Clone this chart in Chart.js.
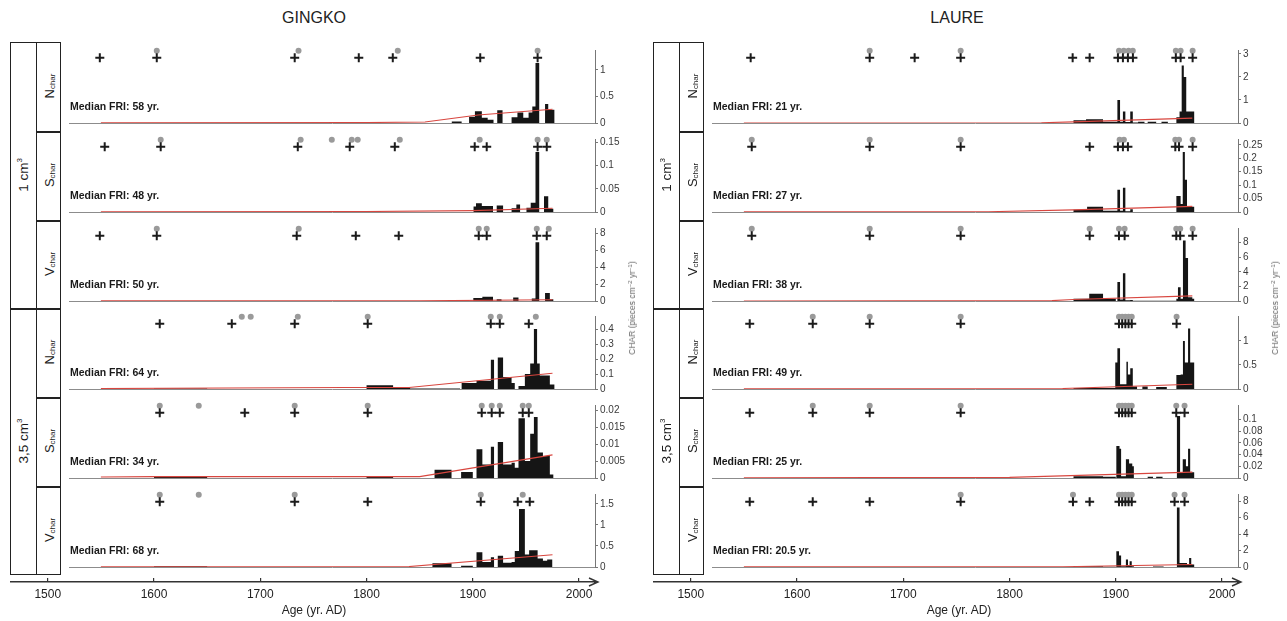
<!DOCTYPE html>
<html><head><meta charset="utf-8">
<script src="https://cdn.jsdelivr.net/npm/chart.js@4.4.0/dist/chart.umd.min.js"></script>
<style>
body{margin:0;width:1287px;height:621px;background:#fff;position:relative;overflow:hidden;font-family:"Liberation Sans",Arial,sans-serif;color:#1a1a1a;}
.t{position:absolute;white-space:nowrap;}
.rot{position:absolute;white-space:nowrap;transform:translate(-50%,-50%) rotate(-90deg);}
.ln{position:absolute;background:#222;}
sub{font-size:8px;vertical-align:baseline;position:relative;top:1px;}
sup{font-size:8px;vertical-align:baseline;position:relative;top:-6px;}
.fri{position:absolute;font-weight:bold;font-size:10.5px;white-space:nowrap;color:#1a1a1a;}
</style></head><body>
<script>
// ---------------- DATA ----------------
const panelNames = ['GINGKO', 'LAURE'];
const rowLetters = ['N', 'S', 'V', 'N', 'S', 'V'];
const gFRI = ['58', '48', '50', '64', '34', '68'];
const lFRI = ['21', '27', '38', '49', '25', '20.5'];
const axisTicks = [1500, 1600, 1700, 1800, 1900, 2000];

// GINGKO 1 cm3 Nchar
const gN1Years = [1880, 1889.5, 1896.5, 1902, 1908.5, 1914, 1919.5, 1923, 1928, 1936.5, 1942, 1947.5, 1952.5, 1956, 1959, 1962.5, 1968, 1971, 1977];
const gN1Vals  = [0.03, 0, 0.12, 0.22, 0.1, 0.06, 0, 0.24, 0, 0.11, 0.2, 0.1, 0.2, 0.31, 1.13, 0, 0.36, 0.25, 0];
const gN1LineYears = [1550, 1800, 1855, 1905, 1975];
const gN1LineVals  = [0.004, 0.008, 0.02, 0.15, 0.26];
const gN1Peaks   = [1549, 1602.6, 1732.4, 1792.7, 1824.7, 1907, 1961];
const gN1Circles = [1602.6, 1736, 1829.4, 1961];
// GINGKO 1 cm3 Schar
const gS1Years = [1900.5, 1903, 1908.5, 1919, 1922.5, 1928.5, 1936.5, 1941, 1944.5, 1950.5, 1954.5, 1959, 1962.5, 1967, 1971, 1976];
const gS1Vals  = [0.012, 0.019, 0.013, 0, 0.014, 0, 0.008, 0.016, 0, 0.009, 0.02, 0.129, 0, 0.034, 0.007, 0];
const gS1LineYears = [1550, 1800, 1900, 1975];
const gS1LineVals  = [0.0004, 0.001, 0.003, 0.008];
const gS1Peaks   = [1553.6, 1606.3, 1735.3, 1784.2, 1826.6, 1901.8, 1913.1, 1961, 1969.6];
const gS1Circles = [1606.3, 1738, 1767.3, 1786.1, 1791.7, 1831.3, 1906.5, 1961, 1969.6];
// GINGKO 1 cm3 Vchar
const gV1Years = [1880, 1888, 1900.5, 1909, 1919, 1922.5, 1927, 1938, 1943, 1955.5, 1959, 1962.5, 1968, 1972.5, 1976];
const gV1Vals  = [0.05, 0, 0.35, 0.5, 0, 0.2, 0, 0.4, 0, 0.3, 6.9, 0, 0.95, 0.2, 0];
const gV1LineYears = [1550, 1850, 1975];
const gV1LineVals  = [0.01, 0.02, 0.15];
const gV1Peaks   = [1549, 1602.6, 1734.3, 1789.9, 1830.3, 1905.6, 1913.1, 1960.2, 1969.6];
const gV1Circles = [1602.6, 1736.2, 1905.6, 1913.1, 1960.2, 1971.5];
// GINGKO 3,5 cm3 Nchar
const gN2Years = [1600, 1650, 1800, 1825, 1841, 1888, 1889.5, 1903.5, 1917, 1920, 1923.5, 1928.5, 1936.5, 1939.5, 1943, 1949, 1954, 1957.5, 1960.5, 1963, 1972.5, 1977];
const gN2Vals  = [0.003, 0, 0.025, 0.008, 0.004, 0, 0.04, 0.055, 0.195, 0, 0.21, 0.08, 0.04, 0, 0.02, 0.1, 0.17, 0.4, 0.17, 0.09, 0.03, 0];
const gN2LineYears = [1550, 1780, 1840, 1975];
const gN2LineVals  = [0.003, 0.01, 0.01, 0.105];
const gN2Peaks   = [1605.4, 1673.2, 1732.4, 1801.1, 1916.9, 1925.4, 1952.7];
const gN2Circles = [1682.6, 1691, 1735.3, 1801.1, 1916.9, 1925.4, 1959.3];
// GINGKO 3,5 cm3 Schar
const gS2Years = [1600, 1650, 1800, 1825, 1864, 1880, 1889, 1900, 1903.5, 1909, 1917, 1920, 1923.5, 1928.5, 1936.5, 1939.5, 1943, 1949, 1954, 1957.5, 1961, 1966, 1972.5, 1976];
const gS2Vals  = [0.0005, 0, 0.0005, 0, 0.0024, 0, 0.0018, 0, 0.0085, 0.004, 0.0092, 0, 0.0106, 0.004, 0.0045, 0.003, 0.0176, 0.005, 0.013, 0.018, 0.0075, 0.0065, 0.001, 0];
const gS2LineYears = [1550, 1600, 1650, 1850, 1975];
const gS2LineVals  = [0.0003, 0.0004, 0.0004, 0.0004, 0.0068];
const gS2Peaks   = [1605.4, 1685.4, 1732.4, 1801.1, 1908.4, 1917.8, 1925.4, 1947, 1952.7];
const gS2Circles = [1605.4, 1642.1, 1732.4, 1801.1, 1908.4, 1917.8, 1925.4, 1947, 1952.7];
// GINGKO 3,5 cm3 Vchar
const gV2Years = [1600, 1650, 1862, 1880, 1889, 1900, 1903.5, 1909, 1917, 1920, 1923.5, 1928.5, 1936.5, 1939.5, 1943.5, 1949, 1953, 1961, 1966, 1970, 1975];
const gV2Vals  = [0.02, 0, 0.09, 0, 0.03, 0, 0.35, 0.12, 0.23, 0, 0.27, 0.1, 0.12, 0.38, 1.38, 0.3, 0.4, 0.2, 0.15, 0.18, 0];
const gV2LineYears = [1550, 1840, 1975];
const gV2LineVals  = [0.005, 0.01, 0.29];
const gV2Peaks   = [1605.4, 1732.4, 1801.1, 1907.5, 1942.3, 1953.6];
const gV2Circles = [1605.4, 1642.1, 1732.4, 1907.5, 1947];

// LAURE 1 cm3 Nchar
const lN1Years = [1860, 1872, 1888, 1901.5, 1904, 1906.7, 1909, 1913.6, 1916, 1921, 1927, 1930, 1938, 1943, 1949, 1957, 1960, 1962, 1964, 1966.3, 1974];
const lN1Vals  = [0.12, 0.16, 0.05, 1.0, 0.05, 0.5, 0.04, 0.5, 0.02, 0.05, 0, 0.05, 0, 0.05, 0, 0.25, 0.5, 2.5, 2.0, 0.5, 0];
const lN1LineYears = [1550, 1830, 1860, 1972];
const lN1LineVals  = [0.002, 0.01, 0.05, 0.21];
const lN1Peaks   = [1556.4, 1668.4, 1710.7, 1754, 1859.4, 1875.4, 1902, 1906.7, 1911.4, 1916.1, 1956.5, 1961, 1972.3];
const lN1Circles = [1668.4, 1754, 1903, 1907.5, 1912, 1916, 1956.5, 1961, 1972.3];
// LAURE 1 cm3 Schar
const lS1Years = [1860, 1873, 1888, 1901.5, 1904, 1906.7, 1909, 1913.6, 1916, 1957, 1961, 1963, 1965, 1967, 1974];
const lS1Vals  = [0.008, 0.02, 0.005, 0.083, 0.005, 0.09, 0.003, 0.01, 0, 0.06, 0.03, 0.224, 0.12, 0.02, 0];
const lS1LineYears = [1550, 1780, 1860, 1972];
const lS1LineVals  = [0.0005, 0.001, 0.008, 0.021];
const lS1Peaks   = [1557.4, 1668.4, 1754, 1875.4, 1902, 1906.7, 1911.4, 1956, 1959.5, 1972.3];
const lS1Circles = [1557.4, 1668.4, 1754, 1903.6, 1907.6, 1956, 1959.5, 1972.3];
// LAURE 1 cm3 Vchar
const lV1Years = [1860, 1875, 1888, 1900, 1901.5, 1904, 1906.7, 1909, 1913.6, 1916, 1957, 1958.5, 1961, 1963.2, 1965.7, 1968, 1972, 1974];
const lV1Vals  = [0.3, 1.0, 0.3, 0, 2.6, 0.2, 3.8, 0.1, 0.15, 0.05, 0.3, 1.9, 0.3, 8.3, 5.9, 0.5, 0.3, 0];
const lV1LineYears = [1550, 1840, 1860, 1972];
const lV1LineVals  = [0.01, 0.05, 0.2, 0.7];
const lV1Peaks   = [1557.4, 1668.4, 1754, 1875.4, 1903, 1908.3, 1956.9, 1960.6, 1972.3];
const lV1Circles = [1557.4, 1668.4, 1754, 1875.4, 1903, 1908.3, 1956.9, 1960.6, 1972.3];
// LAURE 3,5 cm3 Nchar
const lN2Years = [1860, 1899.5, 1901.5, 1904, 1910, 1911.4, 1913.6, 1916, 1920, 1925, 1930, 1938, 1948, 1957, 1961, 1963.2, 1965, 1968, 1970, 1974];
const lN2Vals  = [0.02, 0.55, 0.85, 0.1, 0.57, 0.3, 0.43, 0.05, 0, 0.05, 0, 0.04, 0, 0.29, 0.3, 1.0, 0.55, 1.26, 0.55, 0];
const lN2LineYears = [1550, 1850, 1972];
const lN2LineVals  = [0.002, 0.01, 0.1];
const lN2Peaks   = [1555.5, 1614.8, 1668.4, 1754, 1903, 1906, 1909, 1912, 1915, 1957.2];
const lN2Circles = [1614.8, 1668.4, 1754, 1903, 1906, 1909, 1912, 1915, 1957.2];
// LAURE 3,5 cm3 Schar
const lS2Years = [1860, 1888, 1900, 1900.5, 1903.5, 1905, 1909.5, 1912.5, 1915.5, 1917, 1930, 1935, 1938, 1944, 1957.5, 1960.5, 1963, 1966, 1968, 1970, 1974];
const lS2Vals  = [0.003, 0.002, 0, 0.055, 0.05, 0.003, 0.032, 0.025, 0.02, 0, 0.002, 0, 0.002, 0, 0.106, 0.01, 0.032, 0.02, 0.05, 0.01, 0];
const lS2LineYears = [1550, 1800, 1972];
const lS2LineVals  = [0.0003, 0.001, 0.01];
const lS2Peaks   = [1555.5, 1614.8, 1668.4, 1754, 1903, 1906, 1909, 1912, 1915, 1956.9, 1964.7];
const lS2Circles = [1614.8, 1668.4, 1754, 1903, 1906, 1909, 1912, 1915, 1956.9, 1964.7];
// LAURE 3,5 cm3 Vchar
const lV2Years = [1860, 1888, 1900, 1900.5, 1903, 1905, 1909.5, 1911.5, 1913, 1915, 1917, 1935, 1945, 1957.5, 1960, 1967, 1969, 1971, 1974];
const lV2Vals  = [0.1, 0.03, 0, 1.9, 1.4, 0.1, 0.9, 0.2, 0.7, 0.1, 0, 0.05, 0, 7.2, 0.5, 0.3, 1.1, 0.3, 0];
const lV2LineYears = [1550, 1850, 1972];
const lV2LineVals  = [0.02, 0.03, 0.3];
const lV2Peaks   = [1555.5, 1614.8, 1668.4, 1754, 1859.7, 1875.4, 1903, 1906, 1909, 1912, 1915, 1955.3, 1964.7];
const lV2Circles = [1754, 1859.7, 1903, 1906, 1909, 1912, 1915, 1955.3, 1964.7];

// y-axis ranges: max, tick step, highest shown tick
const gYMax  = [1.377, 0.157, 8.59, 0.487, 0.0215, 1.738];
const gYStep = [0.5, 0.05, 2, 0.1, 0.005, 0.5];
const gYTop  = [1, 0.15, 8, 0.4, 0.02, 1.5];
const lYMax  = [3.17, 0.272, 10.0, 1.52, 0.125, 8.85];
const lYStep = [1, 0.05, 2, 0.5, 0.02, 2];
const lYTop  = [3, 0.25, 8, 1, 0.1, 8];

// ---------------- LAYOUT / STYLE ----------------
const FONT = '"Liberation Sans", Arial, sans-serif';
const X_MIN = 1520, X_MAX = 2015;
const AX_MIN = 1520 - 59 / 1.0626;
const ROW_TOP = 42, ROW_H = 88.8;
const CROSS_LEVEL = 0.895, CIRCLE_LEVEL = 0.99;
const PANEL_DX = [0, 643];

const panels = [
  {fri: gFRI, ymax: gYMax, step: gYStep, top: gYTop, rows: [
    [gN1Years, gN1Vals, gN1LineYears, gN1LineVals, gN1Peaks, gN1Circles],
    [gS1Years, gS1Vals, gS1LineYears, gS1LineVals, gS1Peaks, gS1Circles],
    [gV1Years, gV1Vals, gV1LineYears, gV1LineVals, gV1Peaks, gV1Circles],
    [gN2Years, gN2Vals, gN2LineYears, gN2LineVals, gN2Peaks, gN2Circles],
    [gS2Years, gS2Vals, gS2LineYears, gS2LineVals, gS2Peaks, gS2Circles],
    [gV2Years, gV2Vals, gV2LineYears, gV2LineVals, gV2Peaks, gV2Circles]]},
  {fri: lFRI, ymax: lYMax, step: lYStep, top: lYTop, rows: [
    [lN1Years, lN1Vals, lN1LineYears, lN1LineVals, lN1Peaks, lN1Circles],
    [lS1Years, lS1Vals, lS1LineYears, lS1LineVals, lS1Peaks, lS1Circles],
    [lV1Years, lV1Vals, lV1LineYears, lV1LineVals, lV1Peaks, lV1Circles],
    [lN2Years, lN2Vals, lN2LineYears, lN2LineVals, lN2Peaks, lN2Circles],
    [lS2Years, lS2Vals, lS2LineYears, lS2LineVals, lS2Peaks, lS2Circles],
    [lV2Years, lV2Vals, lV2LineYears, lV2LineVals, lV2Peaks, lV2Circles]]}
];

function el(tag, cls, css, html) {
  const e = document.createElement(tag);
  if (cls) e.className = cls;
  e.style.cssText = css;
  if (html !== undefined) e.innerHTML = html;
  document.body.appendChild(e);
  return e;
}
const fmt = v => String(+(+v).toFixed(6));

function rowChart(px, i, p) {
  const [yrs, vals, lx, ly, peaks, circ] = p.rows[i];
  const top = Math.round(ROW_TOP + i * ROW_H);
  const cv = document.createElement('canvas');
  cv.width = 600; cv.height = 89;
  cv.style.cssText = `position:absolute;left:${px + 69}px;top:${top}px;width:600px;height:89px;`;
  document.body.appendChild(cv);
  const tmax = p.top[i];
  const step = p.step[i];
  new Chart(cv, {
    type: 'line',
    data: {datasets: [
      {type: 'scatter', yAxisID: 'm', data: peaks.map(x => ({x, y: CROSS_LEVEL})), pointStyle: 'cross',
       pointRadius: 4.5, pointBorderWidth: 2, pointBorderColor: '#1b1b1b', order: 0, clip: false},
      {type: 'scatter', yAxisID: 'm', data: circ.map(x => ({x, y: CIRCLE_LEVEL})), pointStyle: 'circle',
       pointRadius: 3, pointBackgroundColor: '#9a9a9a', pointBorderWidth: 0, order: 1, clip: false},
      {type: 'line', yAxisID: 'y', data: lx.map((x, k) => ({x, y: ly[k]})), borderColor: '#d8463f',
       borderWidth: 1.1, pointRadius: 0, fill: false, tension: 0, order: 2},
      {type: 'line', yAxisID: 'y', data: yrs.map((x, k) => ({x, y: vals[k]})), stepped: true, fill: 'origin',
       backgroundColor: '#151515', borderColor: 'rgba(0,0,0,0)', borderWidth: 0, pointRadius: 0, order: 3}
    ]},
    options: {
      responsive: false, animation: false, devicePixelRatio: 1, events: [],
      layout: {autoPadding: false, padding: {left: 0, right: 34, top: 8, bottom: 8}},
      plugins: {legend: {display: false}, tooltip: {enabled: false}},
      scales: {
        x: {type: 'linear', min: X_MIN, max: X_MAX, ticks: {display: false}, grid: {display: false},
            border: {display: true, color: '#8c8c8c', width: 1}, afterFit: s => { s.height = 0; }},
        y: {type: 'linear', position: 'right', min: 0, max: p.ymax[i],
            ticks: {stepSize: step, includeBounds: false, autoSkip: false, maxTicksLimit: 20,
                    font: {size: 10, family: FONT, lineHeight: 1}, color: '#3a3a3a', padding: 2, callback: fmt},
            grid: {drawOnChartArea: false, tickLength: 3, color: '#777'},
            border: {color: '#777', width: 1},
            afterBuildTicks: s => {
              const t = [];
              for (let v = 0; v <= tmax + 1e-9; v += step) t.push({value: +v.toFixed(6)});
              s.ticks = t;
            },
            afterFit: s => { s.width = 40; }},
        m: {type: 'linear', display: false, min: 0, max: 1}
      }
    }
  });
  el('div', 'fri', `left:${px + 70}px;top:${top + 58}px;`, 'Median FRI: ' + p.fri[i] + ' yr.');
}

const arrowPlugin = {id: 'arrow', afterDraw(c) {
  const a = c.chartArea, ctx = c.ctx, y = a.bottom;
  ctx.save(); ctx.strokeStyle = '#333'; ctx.lineWidth = 1.4;
  ctx.beginPath(); ctx.moveTo(a.right - 1, y); ctx.lineTo(a.right + 3, y);
  ctx.moveTo(a.right - 6, y - 4); ctx.lineTo(a.right + 3, y); ctx.lineTo(a.right - 6, y + 4);
  ctx.stroke(); ctx.restore();
}};

function axisChart(px) {
  const cv = document.createElement('canvas');
  cv.width = 610; cv.height = 52;
  cv.style.cssText = `position:absolute;left:${px + 10}px;top:568px;width:610px;height:52px;`;
  document.body.appendChild(cv);
  new Chart(cv, {
    type: 'line', data: {datasets: []},
    options: {
      responsive: false, animation: false, devicePixelRatio: 1, events: [],
      layout: {autoPadding: false, padding: {left: 0, right: 25, top: 10, bottom: 0}},
      plugins: {legend: {display: false}, tooltip: {enabled: false}},
      scales: {
        x: {type: 'linear', min: AX_MIN, max: X_MAX,
            afterBuildTicks: s => { s.ticks = axisTicks.map(v => ({value: v})); },
            ticks: {font: {size: 12, family: FONT}, color: '#222', padding: 5, maxRotation: 0, autoSkip: false, callback: v => String(v)},
            grid: {drawOnChartArea: true, drawTicks: false, color: '#333', lineWidth: 1.2},
            border: {color: '#333', width: 1.5},
            afterFit: s => { s.height = 38; }},
        y: {display: false, min: 0, max: 1}
      }
    },
    plugins: [arrowPlugin]
  });
}

function frame(px) {
  const L = px + 10, T = 42, B = 575;
  el('div', '', `position:absolute;left:${L}px;top:${T}px;width:51px;height:${B - T}px;border:1.5px solid #222;box-sizing:border-box;`);
  el('div', 'ln', `left:${px + 35.5}px;top:${T}px;width:1.5px;height:${B - T}px;`);
  el('div', 'ln', `left:${L}px;top:308px;width:51px;height:1.5px;`);
  [131, 220, 397, 486].forEach(y => el('div', 'ln', `left:${px + 36}px;top:${y}px;width:25px;height:1.5px;`));
  el('div', 'rot', `left:${px + 23}px;top:175px;font-size:13.5px;`, '1 cm<sup>3</sup>');
  el('div', 'rot', `left:${px + 23}px;top:441px;font-size:13.5px;`, '3,5 cm<sup>3</sup>');
  rowLetters.forEach((s, i) => {
    const top = ROW_TOP + i * ROW_H;
    el('div', 'rot', `left:${px + 49}px;top:${top + 44}px;font-size:13px;`, s + '<sub>char</sub>');
  });
}

panels.forEach((p, k) => {
  const px = PANEL_DX[k];
  el('div', 't', `left:${px + 314}px;top:9px;font-size:16px;transform:translateX(-50%);color:#222;`, panelNames[k]);
  frame(px);
  for (let i = 0; i < 6; i++) rowChart(px, i, p);
  axisChart(px);
  el('div', 't', `left:${px + 314 + k * 2}px;top:603px;font-size:12px;transform:translateX(-50%);color:#222;`, 'Age (yr. AD)');
  el('div', 'rot', `left:${px + 632}px;top:308px;font-size:8.5px;color:#666;`, 'CHAR (pieces cm<sup style="font-size:6px;top:-3px">−2</sup> yr<sup style="font-size:6px;top:-3px">−1</sup>)');
});
</script>
</body></html>
